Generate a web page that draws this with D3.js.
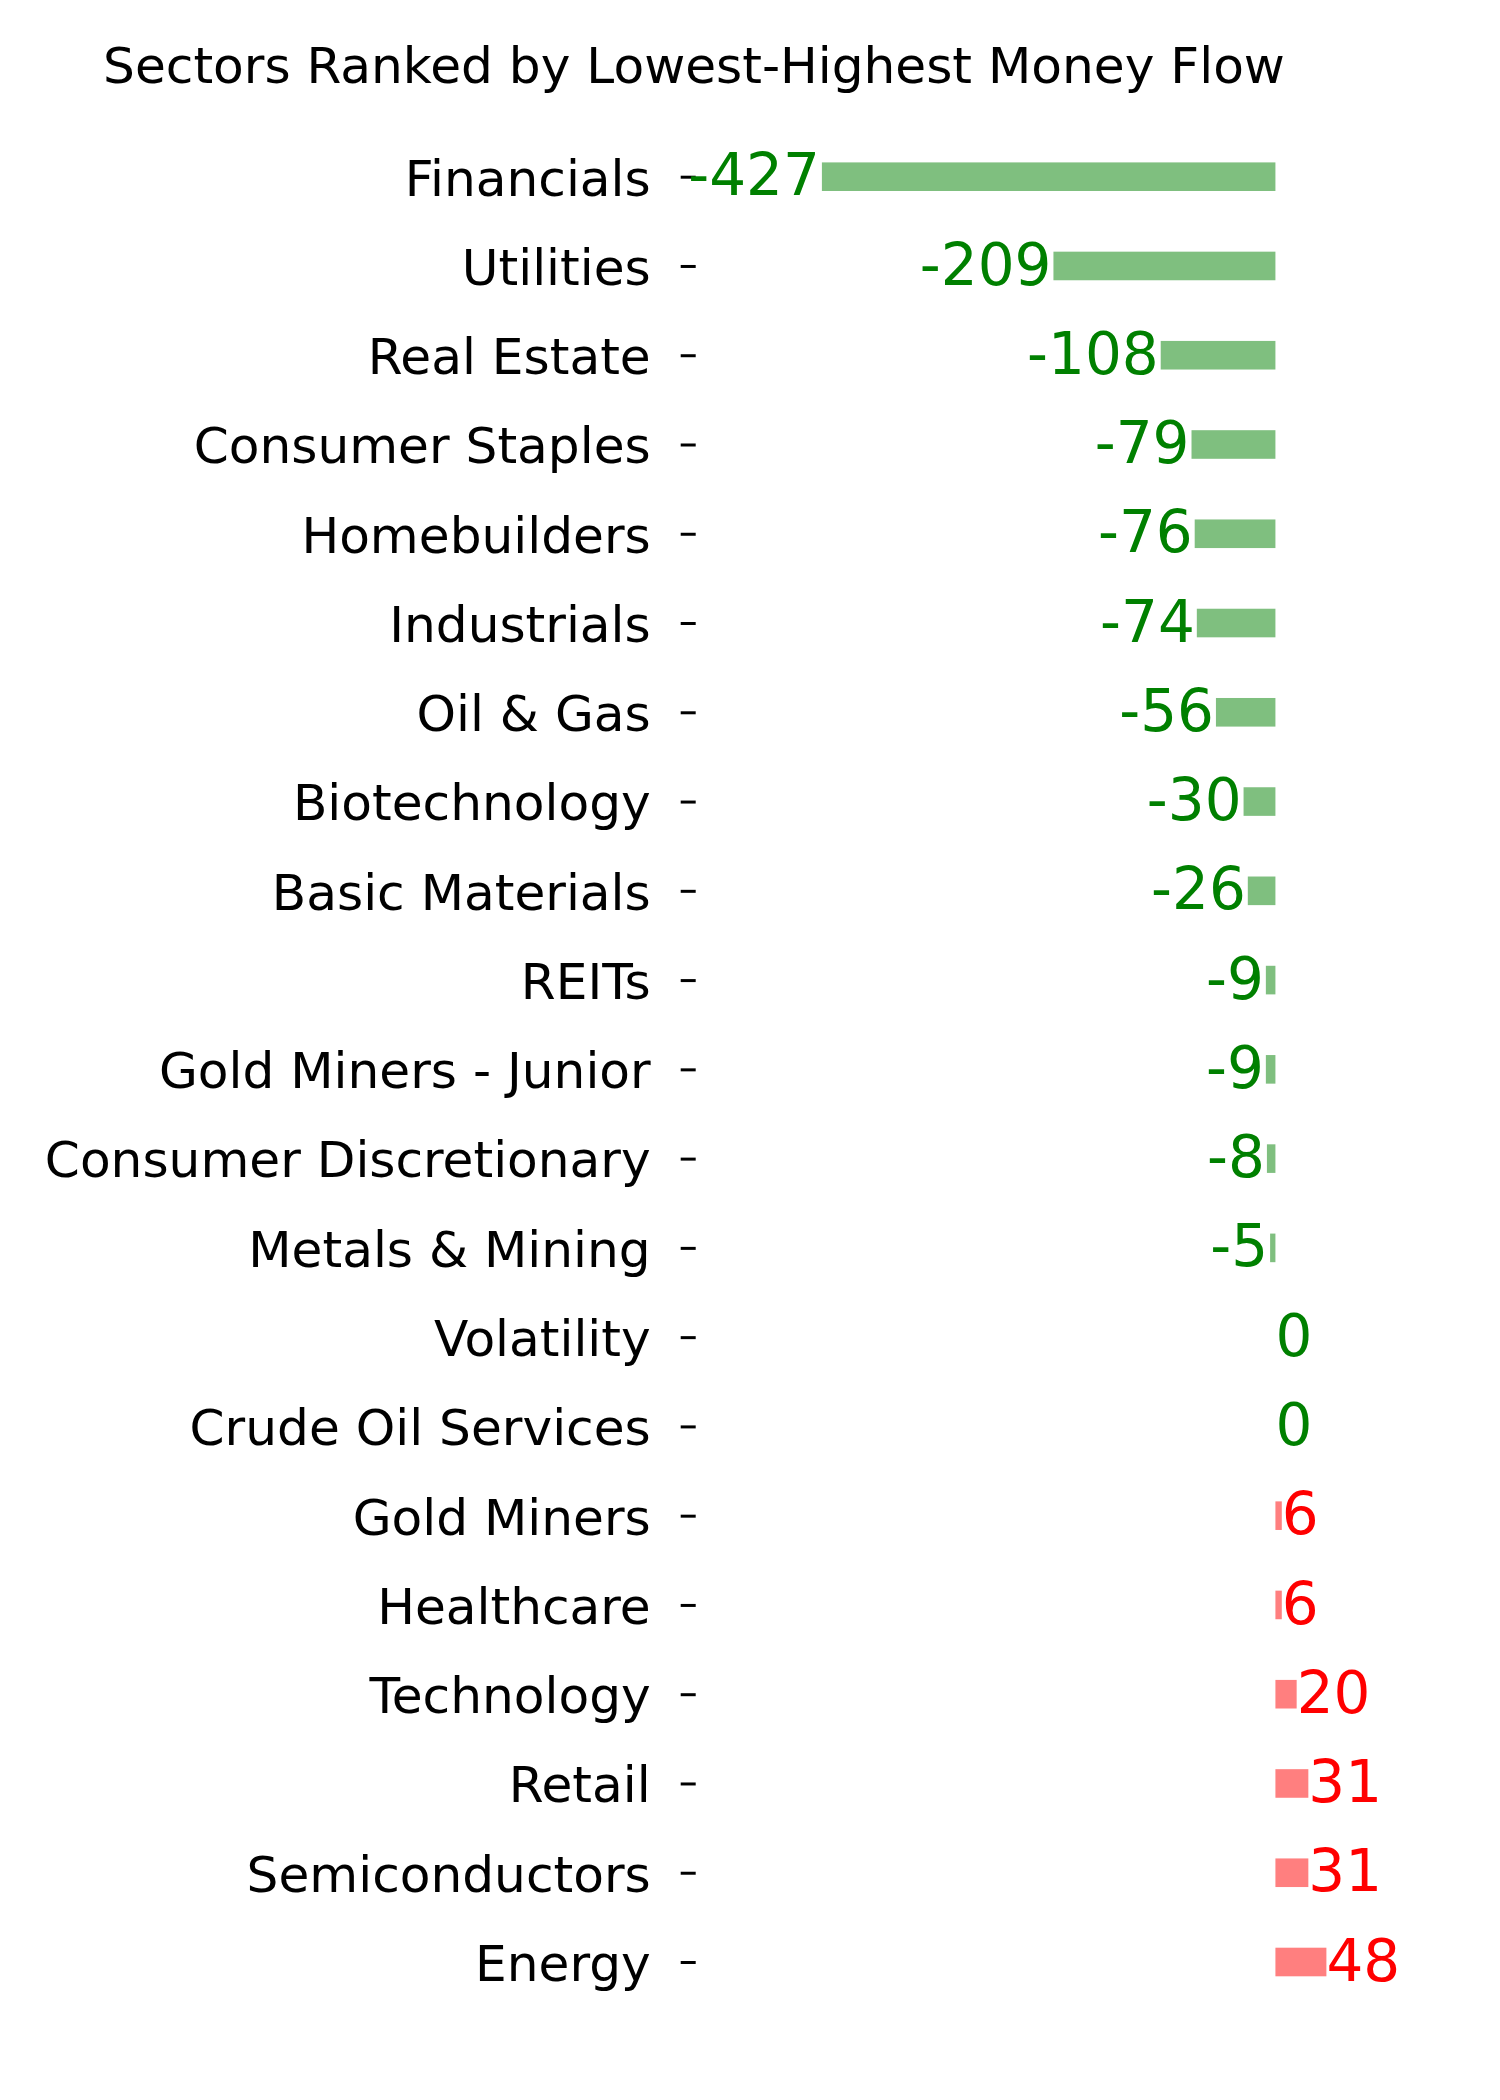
<!DOCTYPE html>
<html>
<head>
<meta charset="utf-8">
<script src="https://cdn.jsdelivr.net/npm/d3@7"></script>
<style>
  html, body { margin: 0; padding: 0; background: #ffffff; }
  svg { display: block; }
</style>
</head>
<body>
<script>
const title = "Sectors Ranked by Lowest-Highest Money Flow";
const categories = [
  "Financials", "Utilities", "Real Estate", "Consumer Staples", "Homebuilders",
  "Industrials", "Oil & Gas", "Biotechnology", "Basic Materials", "REITs",
  "Gold Miners - Junior", "Consumer Discretionary", "Metals & Mining", "Volatility",
  "Crude Oil Services", "Gold Miners", "Healthcare", "Technology", "Retail",
  "Semiconductors", "Energy"
];
const values = [-427, -209, -108, -79, -76, -74, -56, -30, -26, -9, -9, -8, -5, 0, 0, 6, 6, 20, 31, 31, 48];

const W = 1500, H = 2100;
const svg = d3.select("body").append("svg")
  .attr("width", W).attr("height", H)
  .attr("viewBox", `0 0 ${W} ${H}`);
svg.append("rect").attr("width", W).attr("height", H).attr("fill", "#ffffff");

const font = "'DejaVu Sans', sans-serif";

const x = d3.scaleLinear()
  .domain([d3.min(values), d3.max(values)])
  .range([821.9, 1326.4]);

const y = d3.scalePoint()
  .domain(categories)
  .range([176.7, 1962]);

const barH = 28.6;

// Title
svg.append("text")
  .attr("x", 694).attr("y", 83)
  .attr("text-anchor", "middle")
  .attr("font-family", font)
  .attr("font-size", 50.2)
  .attr("fill", "#000000")
  .text(title);

// Y axis (ticks and labels only)
const axis = d3.axisLeft(y).tickSize(15).tickPadding(30);
const gAxis = svg.append("g")
  .attr("transform", "translate(695.7,0)")
  .call(axis);
gAxis.select(".domain").remove();
gAxis.selectAll(".tick line").attr("stroke", "#000000").attr("stroke-width", 3);
gAxis.selectAll(".tick text")
  .attr("font-family", font)
  .attr("font-size", 50.2)
  .attr("fill", "#000000")
  .attr("dy", "0.366em");

const data = categories.map((c, i) => ({ c, v: values[i] }));

// Bars
svg.append("g").selectAll("rect")
  .data(data)
  .join("rect")
  .attr("x", d => Math.min(x(d.v), x(0)))
  .attr("width", d => Math.abs(x(d.v) - x(0)))
  .attr("y", d => y(d.c) - barH / 2)
  .attr("height", barH)
  .attr("fill", d => d.v > 0 ? "#ff0000" : "#008000")
  .attr("fill-opacity", 0.5);

// Value labels
svg.append("g").selectAll("text")
  .data(data)
  .join("text")
  .attr("x", d => d.v < 0 ? x(d.v) - 2 : x(d.v))
  .attr("y", d => y(d.c))
  .attr("dy", "0.32em")
  .attr("text-anchor", d => d.v < 0 ? "end" : "start")
  .attr("font-family", font)
  .attr("font-size", 58)
  .attr("fill", d => d.v > 0 ? "#ff0000" : "#008000")
  .text(d => String(d.v));
</script>
</body>
</html>
